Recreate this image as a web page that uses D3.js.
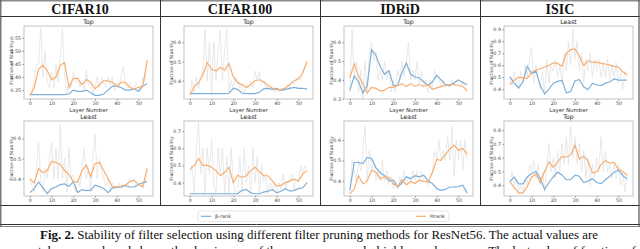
<!DOCTYPE html>
<html>
<head>
<meta charset="utf-8">
<script src="https://cdn.jsdelivr.net/npm/d3@7"></script>
<style>
  body { margin: 0; background: #fff; }
  svg { display: block; }
</style>
</head>
<body>
<svg id="chart" width="640" height="249"></svg>
<script>
// layer indices
var rawLayers = d3.range(0, 55);       // every conv layer 0..54
var smoothLayers = d3.range(0, 55, 2); // smoothed curves read at every second layer

var datasets = ["CIFAR10", "CIFAR100", "IDRiD", "ISIC"];
var seriesNames = ["β-rank", "Hrank"];

// ---- CIFAR10
var c10TopBeta  = [0.333,0.333,0.333,0.333,0.333,0.333,0.333,0.333,0.333,0.335,0.35,0.345,0.345,0.35,0.34,0.33,0.33,0.335,0.35,0.365,0.365,0.36,0.35,0.35,0.355,0.345,0.365,0.375];
var c10TopHrank = [0.33,0.36,0.43,0.445,0.425,0.39,0.40,0.445,0.455,0.36,0.395,0.395,0.37,0.39,0.38,0.355,0.37,0.385,0.385,0.38,0.365,0.38,0.38,0.36,0.355,0.36,0.365,0.465];
var c10TopRaw   = [0.333,0.333,0.40,0.45,0.45,0.585,0.40,0.50,0.38,0.36,0.42,0.36,0.45,0.38,0.48,0.585,0.40,0.333,0.38,0.36,0.42,0.38,0.40,0.36,0.38,0.35,0.43,0.37,0.38,0.333,0.36,0.40,0.36,0.40,0.38,0.36,0.40,0.37,0.40,0.35,0.38,0.36,0.40,0.44,0.37,0.36,0.38,0.35,0.36,0.38,0.35,0.36,0.40,0.38,0.46];
var c10LeastBeta  = [0.33,0.35,0.383,0.355,0.325,0.35,0.358,0.37,0.373,0.36,0.385,0.33,0.345,0.34,0.342,0.367,0.36,0.35,0.33,0.352,0.356,0.358,0.365,0.358,0.358,0.37,0.38,0.385];
var c10LeastHrank = [0.40,0.378,0.45,0.43,0.44,0.485,0.48,0.47,0.44,0.42,0.385,0.383,0.44,0.467,0.41,0.475,0.48,0.44,0.40,0.36,0.358,0.362,0.367,0.385,0.392,0.37,0.36,0.45];
var c10LeastRaw   = [0.40,0.36,0.333,0.45,0.58,0.40,0.333,0.45,0.40,0.50,0.58,0.40,0.55,0.40,0.667,0.40,0.50,0.333,0.55,0.40,0.42,0.333,0.40,0.36,0.45,0.55,0.40,0.45,0.333,0.50,0.62,0.40,0.50,0.45,0.40,0.36,0.40,0.333,0.38,0.36,0.36,0.38,0.35,0.36,0.37,0.36,0.40,0.38,0.40,0.36,0.38,0.36,0.35,0.38,0.45];

// ---- CIFAR100
var c100TopBeta  = [0.333,0.333,0.333,0.333,0.333,0.333,0.333,0.333,0.333,0.335,0.36,0.355,0.335,0.333,0.333,0.333,0.34,0.358,0.36,0.355,0.36,0.35,0.355,0.36,0.365,0.36,0.36,0.358];
var c100TopHrank = [0.325,0.37,0.39,0.43,0.495,0.46,0.45,0.47,0.455,0.49,0.42,0.39,0.38,0.365,0.38,0.40,0.405,0.395,0.375,0.362,0.352,0.355,0.362,0.38,0.40,0.41,0.44,0.50];
var c100TopRaw   = [0.333,0.40,0.333,0.42,0.36,0.42,0.45,0.667,0.40,0.60,0.333,0.60,0.40,0.55,0.667,0.40,0.55,0.667,0.333,0.40,0.36,0.42,0.40,0.36,0.38,0.333,0.38,0.36,0.40,0.36,0.45,0.40,0.45,0.38,0.40,0.36,0.38,0.36,0.36,0.34,0.36,0.34,0.36,0.35,0.36,0.38,0.36,0.40,0.38,0.40,0.42,0.40,0.45,0.48,0.50];
var c100LeastBeta  = [0.335,0.335,0.335,0.335,0.335,0.335,0.335,0.335,0.335,0.335,0.335,0.335,0.355,0.36,0.34,0.335,0.335,0.345,0.35,0.36,0.34,0.35,0.365,0.35,0.355,0.365,0.37,0.40];
var c100LeastHrank = [0.478,0.50,0.54,0.50,0.50,0.49,0.47,0.44,0.46,0.49,0.40,0.443,0.43,0.44,0.47,0.49,0.463,0.44,0.44,0.41,0.38,0.384,0.40,0.41,0.42,0.41,0.45,0.473];
var c100LeastRaw   = [0.45,0.50,0.333,0.60,0.75,0.45,0.60,0.333,0.60,0.45,0.65,0.40,0.333,0.60,0.45,0.60,0.333,0.55,0.333,0.60,0.40,0.333,0.333,0.55,0.333,0.60,0.40,0.50,0.333,0.60,0.40,0.55,0.333,0.50,0.40,0.45,0.333,0.40,0.36,0.40,0.333,0.40,0.36,0.45,0.36,0.40,0.40,0.45,0.36,0.42,0.40,0.50,0.45,0.50,0.48];

// ---- IDRiD
var idTopBeta  = [0.345,0.42,0.39,0.33,0.37,0.56,0.53,0.47,0.43,0.45,0.37,0.37,0.44,0.49,0.43,0.415,0.41,0.39,0.37,0.39,0.425,0.40,0.375,0.37,0.385,0.40,0.385,0.375];
var idTopHrank = [0.41,0.485,0.42,0.38,0.33,0.36,0.355,0.34,0.345,0.36,0.36,0.37,0.38,0.365,0.38,0.365,0.375,0.365,0.375,0.35,0.357,0.365,0.37,0.375,0.375,0.37,0.365,0.34];
var idTopRaw   = [0.333,0.667,0.40,0.50,0.33,0.45,0.30,0.50,0.33,0.55,0.60,0.50,0.55,0.40,0.45,0.40,0.50,0.40,0.45,0.333,0.40,0.333,0.45,0.40,0.50,0.42,0.50,0.60,0.40,0.45,0.40,0.50,0.38,0.45,0.36,0.40,0.333,0.40,0.36,0.45,0.40,0.42,0.36,0.40,0.36,0.38,0.36,0.40,0.38,0.40,0.38,0.36,0.40,0.36,0.35];
var idLeastBeta  = [0.354,0.49,0.49,0.485,0.515,0.51,0.465,0.44,0.425,0.40,0.403,0.37,0.39,0.42,0.41,0.425,0.42,0.428,0.40,0.387,0.362,0.354,0.358,0.37,0.37,0.372,0.379,0.34];
var idLeastHrank = [0.338,0.36,0.425,0.385,0.40,0.452,0.442,0.41,0.42,0.418,0.385,0.372,0.405,0.38,0.397,0.387,0.403,0.398,0.395,0.44,0.505,0.50,0.53,0.555,0.575,0.55,0.558,0.53];
var idLeastRaw   = [0.333,0.50,0.45,0.40,0.50,0.45,0.55,0.667,0.40,0.55,0.45,0.50,0.40,0.45,0.40,0.50,0.40,0.45,0.38,0.42,0.36,0.40,0.36,0.42,0.38,0.45,0.38,0.42,0.40,0.45,0.40,0.45,0.40,0.45,0.40,0.42,0.38,0.42,0.45,0.55,0.50,0.60,0.50,0.55,0.50,0.62,0.50,0.667,0.42,0.60,0.50,0.60,0.45,0.60,0.50];

// ---- ISIC
var isicLeastBeta  = [0.505,0.45,0.41,0.46,0.59,0.53,0.55,0.43,0.36,0.40,0.45,0.465,0.475,0.37,0.38,0.47,0.48,0.42,0.395,0.45,0.435,0.43,0.45,0.46,0.485,0.475,0.475,0.475];
var isicLeastHrank = [0.44,0.475,0.50,0.495,0.49,0.54,0.56,0.57,0.585,0.60,0.62,0.615,0.59,0.70,0.73,0.735,0.675,0.60,0.635,0.625,0.625,0.615,0.61,0.60,0.59,0.585,0.545,0.52];
var isicLeastRaw   = [0.50,0.42,0.55,0.45,0.40,0.55,0.45,0.60,0.50,0.65,0.75,0.45,0.60,0.50,0.40,0.55,0.35,0.65,0.45,0.60,0.55,0.65,0.50,0.60,0.45,0.70,0.55,0.80,0.60,0.90,0.65,0.80,0.55,0.70,0.45,0.65,0.55,0.70,0.50,0.65,0.55,0.65,0.50,0.62,0.50,0.65,0.48,0.60,0.50,0.62,0.45,0.55,0.40,0.55,0.50];
var isicTopBeta  = [0.424,0.46,0.41,0.41,0.46,0.485,0.50,0.45,0.37,0.42,0.46,0.495,0.475,0.44,0.44,0.473,0.465,0.42,0.43,0.447,0.42,0.412,0.44,0.465,0.495,0.51,0.47,0.445];
var isicTopHrank = [0.424,0.385,0.345,0.345,0.39,0.46,0.48,0.42,0.50,0.57,0.53,0.57,0.607,0.605,0.62,0.69,0.59,0.61,0.575,0.49,0.498,0.55,0.58,0.56,0.565,0.515,0.50,0.473];
var isicTopRaw   = [0.42,0.50,0.40,0.45,0.35,0.40,0.333,0.45,0.40,0.55,0.50,0.58,0.45,0.55,0.40,0.50,0.35,0.55,0.70,0.50,0.60,0.45,0.65,0.50,0.70,0.55,0.75,0.55,0.83,0.60,0.75,0.55,0.70,0.50,0.65,0.45,0.60,0.40,0.55,0.45,0.60,0.50,0.75,0.50,0.65,0.50,0.55,0.45,0.55,0.45,0.55,0.40,0.50,0.35,0.48];

// tick labels
var xTicks = [0, 10, 20, 30, 40, 50];

// panels (col, row) -> data + axis range
var panels = [
  {col: 0, row: 0, title: "Top",   beta: c10TopBeta,    hrank: c10TopHrank,    raw: c10TopRaw,    y: [0.316, 0.595], ticks: [0.35, 0.40, 0.45, 0.50, 0.55], fmt: ".2f"},
  {col: 0, row: 1, title: "Least", beta: c10LeastBeta,  hrank: c10LeastHrank,  raw: c10LeastRaw,  y: [0.313, 0.687], ticks: [0.4, 0.5, 0.6], fmt: ".1f"},
  {col: 1, row: 0, title: "Top",   beta: c100TopBeta,   hrank: c100TopHrank,   raw: c100TopRaw,   y: [0.305, 0.685], ticks: [0.4, 0.5, 0.6], fmt: ".1f"},
  {col: 1, row: 1, title: "Least", beta: c100LeastBeta, hrank: c100LeastHrank, raw: c100LeastRaw, y: [0.322, 0.759], ticks: [0.4, 0.5, 0.6, 0.7], fmt: ".1f"},
  {col: 2, row: 0, title: "Top",   beta: idTopBeta,     hrank: idTopHrank,     raw: idTopRaw,     y: [0.298, 0.687], ticks: [0.3, 0.4, 0.5, 0.6], fmt: ".1f"},
  {col: 2, row: 1, title: "Least", beta: idLeastBeta,   hrank: idLeastHrank,   raw: idLeastRaw,   y: [0.326, 0.693], ticks: [0.4, 0.5, 0.6], fmt: ".1f"},
  {col: 3, row: 0, title: "Least", beta: isicLeastBeta, hrank: isicLeastHrank, raw: isicLeastRaw, y: [0.318, 0.927], ticks: [0.4, 0.5, 0.6, 0.7, 0.8, 0.9], fmt: ".1f"},
  {col: 3, row: 1, title: "Top",   beta: isicTopBeta,   hrank: isicTopHrank,   raw: isicTopRaw,   y: [0.322, 0.866], ticks: [0.4, 0.5, 0.6, 0.7, 0.8], fmt: ".1f"}
];

var colors = {beta: "#7db0da", hrank: "#f9ae70", raw: "#e2e2e2"};
var colX = [0, 160, 320, 480];
var rowBox = [{top: 26, bottom: 99}, {top: 121, bottom: 196}];
var boxLeft = 24, boxRight = 153;
var sans = "DejaVu Sans, sans-serif";
var serif = "Liberation Serif, Times New Roman, serif";

var svg = d3.select("#chart");

// clip each table cell so the hidden bottom x label stays inside
var defs = svg.append("defs");
colX.forEach(function (cx, i) {
  defs.append("clipPath").attr("id", "cell" + i)
    .append("rect").attr("x", cx + 1).attr("y", 17).attr("width", 158).attr("height", 188);
});

var x = d3.scaleLinear().domain([-2.7, 56.7]).range([boxLeft, boxRight]);

panels.forEach(function (p) {
  var g = svg.append("g").attr("clip-path", "url(#cell" + p.col + ")")
    .append("g").attr("transform", "translate(" + colX[p.col] + ",0)");
  var box = rowBox[p.row];
  var y = d3.scaleLinear().domain(p.y).range([box.bottom, box.top]);

  var line = d3.line()
    .x(function (d) { return x(d[0]); })
    .y(function (d) { return y(d[1]); });

  g.append("path")
    .datum(d3.zip(rawLayers, p.raw))
    .attr("fill", "none").attr("stroke", colors.raw).attr("stroke-width", 0.75)
    .attr("d", line);
  g.append("path")
    .datum(d3.zip(smoothLayers, p.beta))
    .attr("fill", "none").attr("stroke", colors.beta).attr("stroke-width", 1.2)
    .attr("d", line);
  g.append("path")
    .datum(d3.zip(smoothLayers, p.hrank))
    .attr("fill", "none").attr("stroke", colors.hrank).attr("stroke-width", 1.2)
    .attr("d", line);

  // frame
  g.append("rect")
    .attr("x", boxLeft).attr("y", box.top)
    .attr("width", boxRight - boxLeft).attr("height", box.bottom - box.top)
    .attr("fill", "none").attr("stroke", "#c4c4c4").attr("stroke-width", 1);

  var xAxis = g.append("g")
    .attr("transform", "translate(0," + box.bottom + ")")
    .call(d3.axisBottom(x).tickValues(xTicks).tickSize(1.5).tickPadding(1.5));
  var yAxis = g.append("g")
    .attr("transform", "translate(" + boxLeft + ",0)")
    .call(d3.axisLeft(y).tickValues(p.ticks).tickFormat(d3.format(p.fmt)).tickSize(1.5).tickPadding(1.5));
  [xAxis, yAxis].forEach(function (a) {
    a.select(".domain").remove();
    a.selectAll("line").attr("stroke", "#555").attr("stroke-width", 0.6);
    a.selectAll("text").attr("fill", "#444").style("font-family", sans).style("font-size", "4.8px");
  });

  g.append("text")
    .attr("x", (boxLeft + boxRight) / 2).attr("y", box.top - 1.6)
    .attr("text-anchor", "middle")
    .style("font-family", sans).style("font-size", "6.2px").attr("fill", "#222")
    .text(p.title);

  g.append("text")
    .attr("transform", "translate(11.5," + (box.top + box.bottom) / 2 + ") rotate(-90)")
    .attr("text-anchor", "middle").attr("dominant-baseline", "central")
    .style("font-family", sans).style("font-size", "4.6px").attr("fill", "#333")
    .text("Fraction of Stability");

  g.append("text")
    .attr("x", (boxLeft + boxRight) / 2).attr("y", box.bottom + 13)
    .attr("text-anchor", "middle")
    .style("font-family", sans).style("font-size", "5.4px").attr("fill", "#333")
    .text("Layer Number");
});

// table frame
svg.append("rect").attr("x", 0).attr("y", 0).attr("width", 640).attr("height", 1.5).attr("fill", "#8a8a8a");
svg.append("line").attr("x1", 0).attr("x2", 640).attr("y1", 16.5).attr("y2", 16.5).attr("stroke", "#333").attr("stroke-width", 1);
svg.append("line").attr("x1", 0).attr("x2", 640).attr("y1", 205.5).attr("y2", 205.5).attr("stroke", "#333").attr("stroke-width", 1);
svg.append("line").attr("x1", 0).attr("x2", 640).attr("y1", 224.5).attr("y2", 224.5).attr("stroke", "#333").attr("stroke-width", 1);
svg.append("line").attr("x1", 0).attr("x2", 640).attr("y1", 226.5).attr("y2", 226.5).attr("stroke", "#666").attr("stroke-width", 0.8);
[0.8, 639].forEach(function (vx) {
  svg.append("line").attr("x1", vx).attr("x2", vx).attr("y1", 0).attr("y2", 226.5).attr("stroke", "#555").attr("stroke-width", 1.2);
});
[160, 320, 480].forEach(function (vx) {
  svg.append("line").attr("x1", vx + 0.5).attr("x2", vx + 0.5).attr("y1", 0).attr("y2", 205.5).attr("stroke", "#333").attr("stroke-width", 1);
});

// header titles
svg.selectAll(".ds").data(datasets).enter().append("text")
  .attr("class", "ds")
  .attr("x", function (d, i) { return colX[i] + 80; })
  .attr("y", 13.5)
  .attr("text-anchor", "middle")
  .style("font-family", serif).style("font-weight", "bold").style("font-size", "14px")
  .attr("fill", "#111")
  .text(function (d) { return d; });

// legend
var lg = svg.append("g");
lg.append("rect").attr("x", 198).attr("y", 211).attr("width", 251).attr("height", 10.5)
  .attr("rx", 1.5).attr("fill", "#fff").attr("stroke", "#dcdcdc").attr("stroke-width", 0.7);
var legendItems = [{name: seriesNames[0], color: colors.beta, x: 201}, {name: seriesNames[1], color: colors.hrank, x: 416}];
legendItems.forEach(function (d) {
  lg.append("line").attr("x1", d.x).attr("x2", d.x + 10).attr("y1", 216.3).attr("y2", 216.3)
    .attr("stroke", d.color).attr("stroke-width", 1.2);
  lg.append("text").attr("x", d.x + 14).attr("y", 216.3).attr("dominant-baseline", "central")
    .style("font-family", sans).style("font-size", "5px").attr("fill", "#444").text(d.name);
});

// caption (second line is cut by the bottom edge, as in the source image)
var cap1 = svg.append("text").attr("x", 40).attr("y", 238.5)
  .attr("textLength", 558).attr("lengthAdjust", "spacingAndGlyphs")
  .style("font-family", serif).style("font-size", "11.5px").attr("fill", "#111");
cap1.append("tspan").style("font-weight", "bold").text("Fig. 2.");
cap1.append("tspan").text(" Stability of filter selection using different filter pruning methods for ResNet56. The actual values are");
svg.append("text").attr("x", 38).attr("y", 254.5)
  .attr("textLength", 598).attr("lengthAdjust", "spacingAndGlyphs")
  .style("font-family", serif).style("font-size", "11.5px").attr("fill", "#111")
  .text("taken as such and shows the dominance of the more commonly highly random ones. The last value of fraction of");
</script>
</body>
</html>
